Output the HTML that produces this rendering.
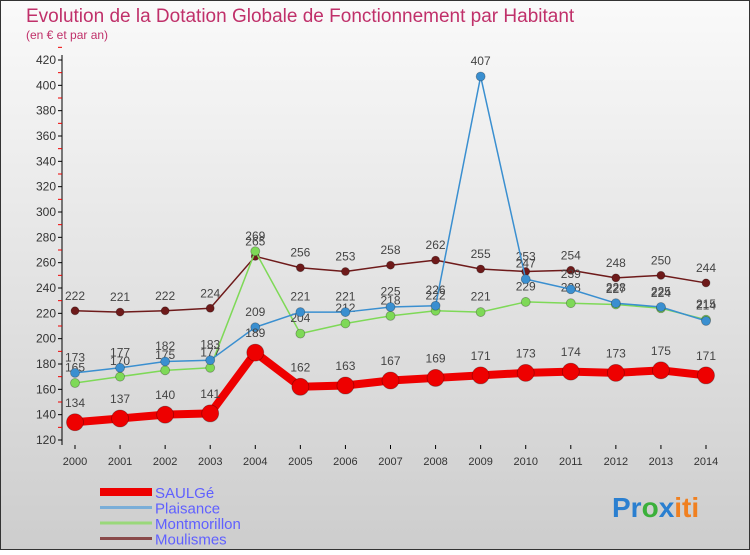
<!DOCTYPE html>
<html><head><meta charset="utf-8"><style>
html,body{margin:0;padding:0}
body{width:750px;height:550px;overflow:hidden;font-family:"Liberation Sans",sans-serif}
svg text{font-family:"Liberation Sans",sans-serif}
</style></head><body>
<svg width="750" height="550" xmlns="http://www.w3.org/2000/svg">
<defs><linearGradient id="bg" x1="0" y1="0" x2="0" y2="1"><stop offset="0" stop-color="#fafafa"/><stop offset="1" stop-color="#cdcdcd"/></linearGradient></defs>
<rect x="0.5" y="0.5" width="749" height="549" fill="url(#bg)" stroke="#333"/>
<text x="26" y="22" font-size="19" fill="#c0306a">Evolution de la Dotation Globale de Fonctionnement par Habitant</text>
<text x="26" y="39" font-size="12" fill="#c0306a">(en € et par an)</text>
<g id="axes"></g><g id="series"></g><g id="legend"></g>
<text x="612" y="517" font-size="28" font-weight="bold"><tspan fill="#2a7fd0">Pr</tspan><tspan fill="#3bb03b">o</tspan><tspan fill="#2a7fd0">x</tspan><tspan fill="#f08020">iti</tspan></text>
</svg>
<script>
const years=[2000,2001,2002,2003,2004,2005,2006,2007,2008,2009,2010,2011,2012,2013,2014];
const yTicks=[120,140,160,180,200,220,240,260,280,300,320,340,360,380,400,420];
const saulge=[134,137,140,141,189,162,163,167,169,171,173,174,173,175,171];
const plaisance=[173,177,182,183,209,221,221,225,226,407,247,239,228,225,214];
const montmorillon=[165,170,175,177,269,204,212,218,222,221,229,228,227,224,215];
const moulismes=[222,221,222,224,265,256,253,258,262,255,253,254,248,250,244];
const NS="http://www.w3.org/2000/svg";
const x=i=>75+i*(706-75)/(years.length-1);
const y=v=>440-(v-120)*(380/300);
function mk(t,a,p){const e=document.createElementNS(NS,t);for(const k in a)e.setAttribute(k,a[k]);p.appendChild(e);return e;}
const ax=document.getElementById('axes');
const yl=mk('line',{x1:62,y1:55,x2:62,y2:445,stroke:'#000'},ax);


yTicks.forEach(v=>{
  mk('line',{x1:58,y1:y(v),x2:62,y2:y(v),stroke:'#000'},ax);
  mk('line',{x1:58,y1:y(v+10),x2:62,y2:y(v+10),stroke:'#e00'},ax);
  const t=mk('text',{x:56,y:y(v)+4,'font-size':12,'text-anchor':'end',fill:'#333'},ax);
  t.textContent=v;
  
  
});
years.forEach((yr,i)=>{
  mk('line',{x1:x(i),y1:445,x2:x(i),y2:449,stroke:'#000'},ax);
  const t=mk('text',{x:x(i),y:465,'font-size':11,'text-anchor':'middle',fill:'#333'},ax);
  t.textContent=yr;
  
  
});
const sg=document.getElementById('series');
function series(vals,color,w,r,name){
  const g=mk('g',{},sg);
  
  
  mk('polyline',{points:vals.map((v,i)=>x(i)+','+y(v)).join(' '),fill:'none',stroke:color,'stroke-width':w,'stroke-linejoin':'round'},g);
  vals.forEach((v,i)=>{
    const c=mk('circle',{cx:x(i),cy:y(v),r:r,fill:color,stroke:'rgba(0,0,0,0.3)','stroke-width':0.8},g);
    
    
    const t=mk('text',{x:x(i),y:y(v)-(r+7),'font-size':12,'text-anchor':'middle',fill:'#444'},g);
    t.textContent=v;
    
    
  });
}
series(moulismes,'#6e1a1a',1.5,4,'moulismes');
series(montmorillon,'#7ed957',1.5,4.5,'montmorillon');
series(plaisance,'#3a8fd0',1.5,4.5,'plaisance');
series(saulge,'#ee0000',8,8.5,'saulge');
const lg=document.getElementById('legend');
const items=[['SAULGé','#ee0000',8],['Plaisance','#7aaed8',3],['Montmorillon','#9ad87a',3],['Moulismes','#8a4a4a',3]];
items.forEach((it,k)=>{
  const yy=492+k*15.5;
  const g=mk('g',{},lg);
  
  
  mk('line',{x1:100,y1:yy,x2:152,y2:yy,stroke:it[1],'stroke-width':it[2]},g);
  const t=mk('text',{x:155,y:yy+6,'font-size':15,fill:'#6060ff'},g);
  t.textContent=it[0];
});
</script>
</body></html>
